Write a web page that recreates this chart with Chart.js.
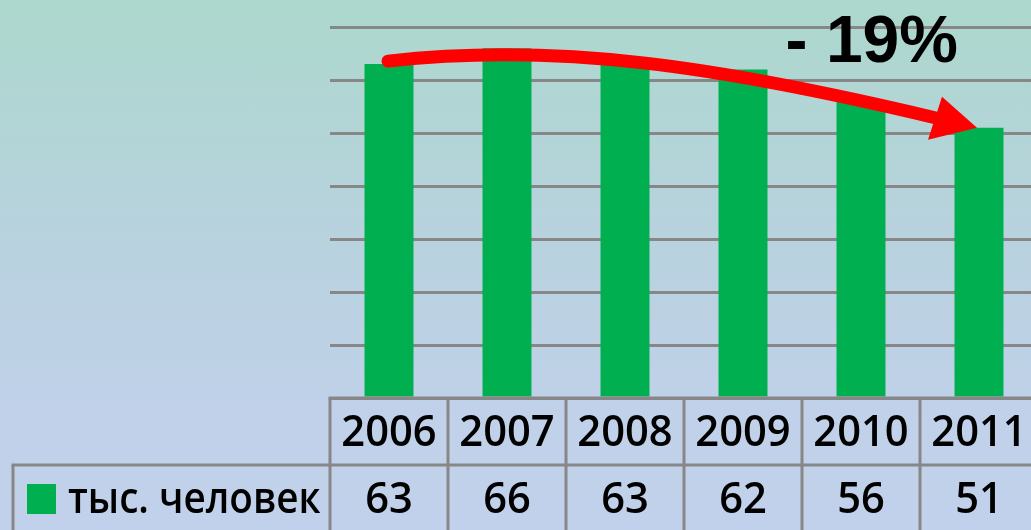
<!DOCTYPE html>
<html>
<head>
<meta charset="utf-8">
<script src="https://cdn.jsdelivr.net/npm/chart.js@4.4.1/dist/chart.umd.min.js"></script>
<style>
    html, body {
        margin: 0;
        padding: 0;
        overflow: hidden;
        background: #c1d1ea;
    }
    #wrap {
        width: 1040px;
        height: 530px;
        background: linear-gradient(to bottom, #acd8cd 0%, #b8d2de 45%, #c0d1e9 78%, #c1d1eb 100%);
    }
</style>
</head>
<body>
<div id="wrap">
    <canvas id="chart" width="1040" height="530"></canvas>
</div>
<script>
    // Dados do gráfico
    const years = ['2006', '2007', '2008', '2009', '2010', '2011'];
    const values = [63, 66, 63, 62, 56, 51];
    const seriesLabel = 'тыс. человек';
    const yMax = 70;
    const yStep = 10;

    const barColor = '#00b050';
    const lineColor = '#878787';
    const tableFont = '600 43px "Open Sans"';

    // texto comprimido na horizontal (fonte mais estreita, como Calibri)
    function narrowText(ctx, text, x, y, align, squeeze) {
        ctx.save();
        ctx.translate(x, y);
        ctx.scale(squeeze, 1);
        ctx.textAlign = align;
        ctx.fillText(text, 0, 0);
        ctx.restore();
    }

    // Tabela de dados abaixo do gráfico
    const dataTable = {
        id: 'dataTable',
        afterDraw(chart) {
            const ctx = chart.ctx;
            const xs = chart.scales.x;
            const area = chart.chartArea;
            const colW = xs.getPixelForValue(1) - xs.getPixelForValue(0);
            const top = area.bottom;
            const rowH = 67;
            const bottom = chart.height + 5;
            const legendLeft = 13;

            ctx.save();
            ctx.strokeStyle = lineColor;
            ctx.lineWidth = 3;

            // linhas horizontais
            ctx.beginPath();
            ctx.moveTo(area.left - 1.5, top);
            ctx.lineTo(chart.width, top);
            ctx.moveTo(legendLeft - 1.5, top + rowH);
            ctx.lineTo(chart.width, top + rowH);
            ctx.stroke();

            // linhas verticais
            ctx.beginPath();
            for (let i = 0; i <= years.length; i++) {
                const x = xs.getPixelForValue(0) - colW / 2 + i * colW;
                ctx.moveTo(x, top);
                ctx.lineTo(x, bottom);
            }
            ctx.moveTo(legendLeft, top + rowH);
            ctx.lineTo(legendLeft, bottom);
            ctx.stroke();

            // textos
            ctx.fillStyle = '#000';
            ctx.font = tableFont;
            ctx.textBaseline = 'alphabetic';
            years.forEach((year, i) => {
                const x = xs.getPixelForValue(i);
                narrowText(ctx, year, x, top + 48, 'center', 0.97);
                narrowText(ctx, String(values[i]), x, top + rowH + 48, 'center', 0.97);
            });

            // legenda
            ctx.fillStyle = barColor;
            ctx.fillRect(27, top + rowH + 19, 29, 30);
            ctx.fillStyle = '#000';
            narrowText(ctx, seriesLabel, 68, top + rowH + 48, 'left', 0.9);
            ctx.restore();
        }
    };

    // Seta vermelha e percentual
    const trendArrow = {
        id: 'trendArrow',
        afterDatasetsDraw(chart) {
            const ctx = chart.ctx;
            const xs = chart.scales.x;
            const ys = chart.scales.y;
            const last = values.length - 1;

            const sx = xs.getPixelForValue(0) - 1;
            const sy = ys.getPixelForValue(values[0]) - 3;
            const tx = xs.getPixelForValue(last) - 2;
            const ty = ys.getPixelForValue(values[last]);
            const bx = tx - 42;
            const by = ty - 10;

            ctx.save();
            ctx.strokeStyle = '#ff0000';
            ctx.fillStyle = '#ff0000';
            ctx.lineWidth = 13;
            ctx.lineCap = 'round';
            ctx.beginPath();
            ctx.moveTo(sx, sy);
            ctx.bezierCurveTo(sx + 172, sy - 19, bx - 215, by - 51, bx, by);
            ctx.stroke();

            ctx.beginPath();
            ctx.moveTo(tx, ty);
            ctx.lineTo(tx - 35, ty - 31);
            ctx.lineTo(tx - 49, ty + 12);
            ctx.closePath();
            ctx.fill();

            const change = Math.round((values[last] - values[0]) / values[0] * 100);
            ctx.fillStyle = '#000';
            ctx.font = 'bold 66px "Liberation Sans", Arial, sans-serif';
            ctx.textAlign = 'right';
            ctx.textBaseline = 'alphabetic';
            ctx.fillText('- ' + Math.abs(change) + '%', tx - 19, 62);
            ctx.restore();
        }
    };

    new Chart(document.getElementById('chart'), {
        type: 'bar',
        data: {
            labels: years,
            datasets: [{
                label: seriesLabel,
                data: values,
                backgroundColor: barColor,
                borderWidth: 0,
                categoryPercentage: 1,
                barPercentage: 0.415
            }]
        },
        options: {
            responsive: false,
            animation: false,
            events: [],
            layout: {
                padding: { left: 330, right: 2, top: 27, bottom: 132 }
            },
            plugins: {
                legend: { display: false },
                tooltip: { enabled: false }
            },
            scales: {
                x: {
                    display: false,
                    offset: true
                },
                y: {
                    min: 0,
                    max: yMax,
                    ticks: { display: false, stepSize: yStep },
                    border: { display: false },
                    grid: {
                        color: lineColor,
                        lineWidth: 3,
                        drawTicks: false
                    }
                }
            }
        },
        plugins: [dataTable, trendArrow]
    });
</script>
</body>
</html>
